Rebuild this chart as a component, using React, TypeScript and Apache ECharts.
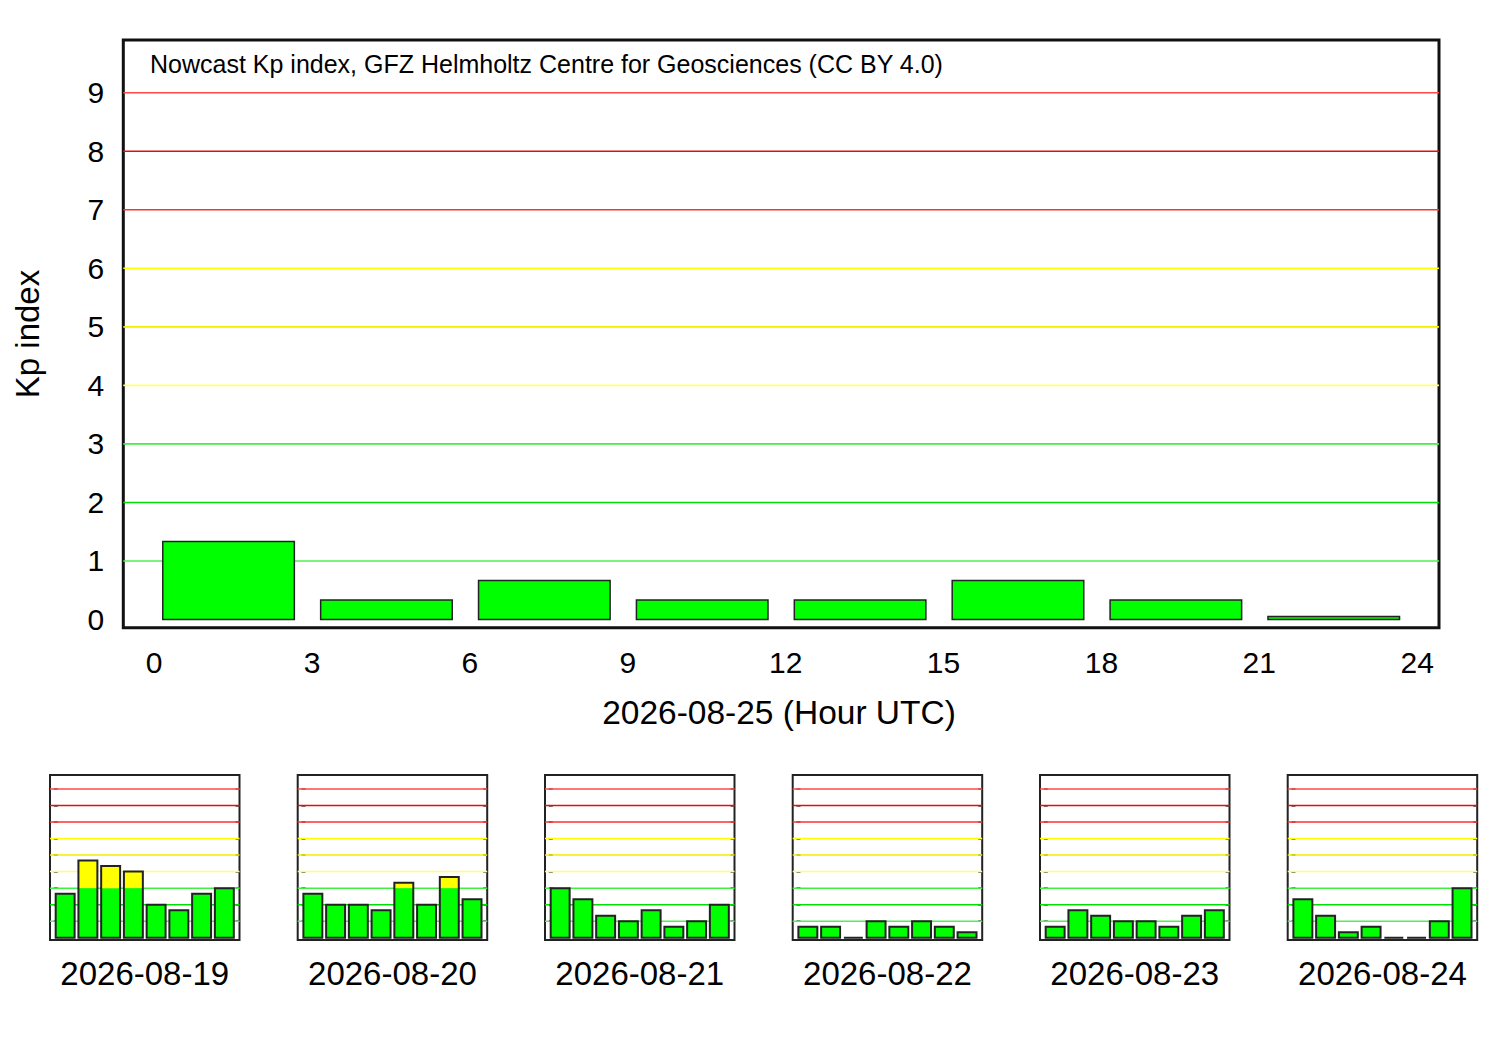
import React, { useEffect, useRef } from "react";
import * as echarts from "echarts";

// ---- data ----
const hours = [0, 3, 6, 9, 12, 15, 18, 21];
const mainDate = "2026-08-25";
const mainKp = [1.333, 0.333, 0.667, 0.333, 0.333, 0.667, 0.333, 0.05];
const dayLabels = ["2026-08-19", "2026-08-20", "2026-08-21", "2026-08-22", "2026-08-23", "2026-08-24"];
const kp0819 = [2.667, 4.667, 4.333, 4.0, 2.0, 1.667, 2.667, 3.0];
const kp0820 = [2.667, 2.0, 2.0, 1.667, 3.333, 2.0, 3.667, 2.333];
const kp0821 = [3.0, 2.333, 1.333, 1.0, 1.667, 0.667, 1.0, 2.0];
const kp0822 = [0.667, 0.667, 0.0, 1.0, 0.667, 1.0, 0.667, 0.333];
const kp0823 = [0.667, 1.667, 1.333, 1.0, 1.0, 0.667, 1.333, 1.667];
const kp0824 = [2.333, 1.333, 0.333, 0.667, 0.0, 0.0, 1.0, 3.0];
const dayKp = [kp0819, kp0820, kp0821, kp0822, kp0823, kp0824];
const yTicks = [0, 1, 2, 3, 4, 5, 6, 7, 8, 9];
const xTicks = [0, 3, 6, 9, 12, 15, 18, 21, 24];
const levels = [1, 2, 3, 4, 5, 6, 7, 8, 9];
const levelColors = ["#50f050", "#00e000", "#40f040", "#ffff70", "#f2ee00", "#ffff00", "#ff3030", "#e01010", "#ff4848"];
const titleText = "Nowcast Kp index, GFZ Helmholtz Centre for Geosciences (CC BY 4.0)";
const yName = "Kp index";
const xName = mainDate + " (Hour UTC)";

const FONT = "Liberation Sans, Arial, Helvetica, sans-serif";

function makeBarRender(lineWidth: number) {
  return (params: any, api: any) => {
    const h = api.value(0);
    const v = api.value(1);
    const xl = api.coord([h + 0.25, 0])[0];
    const xr = api.coord([h + 2.75, 0])[0];
    const y0 = api.coord([h, 0])[1];
    const yv = api.coord([h, v])[1];
    const y3 = api.coord([h, 3])[1];
    const w = xr - xl;
    const children: any[] = [];
    const gTop = v > 3 ? y3 : yv;
    children.push({ type: "rect", shape: { x: xl, y: gTop, width: w, height: y0 - gTop }, style: { fill: "#00ff00" } });
    if (v > 3) {
      children.push({ type: "rect", shape: { x: xl, y: yv, width: w, height: y3 - yv }, style: { fill: "#ffff00" } });
    }
    children.push({
      type: "rect",
      shape: { x: xl, y: yv, width: w, height: y0 - yv },
      style: { fill: "none", stroke: "#222", lineWidth },
    });
    return { type: "group", children };
  };
}

function makeLevelRender(lineWidth: number) {
  return (params: any, api: any) => {
    const lv = api.value(1);
    const cs = params.coordSys;
    const y = api.coord([0, lv])[1];
    return {
      type: "line",
      shape: { x1: cs.x, y1: y, x2: cs.x + cs.width, y2: y },
      style: { stroke: levelColors[params.dataIndex], lineWidth },
    };
  };
}

export default function App() {
  const ref = useRef<HTMLDivElement>(null);
  useEffect(() => {
    if (!ref.current) return;
    const chart = echarts.init(ref.current, undefined, { renderer: "svg" });

    const grids: any[] = [];
    const xAxes: any[] = [];
    const yAxes: any[] = [];
    const series: any[] = [];
    const graphics: any[] = [];

    // main grid
    grids.push({
      left: 123.3, top: 40, width: 1315.7, height: 587.7,
      show: true, borderWidth: 3, borderColor: "#111", backgroundColor: "transparent",
    });
    xAxes.push({
      type: "value", gridIndex: 0, min: -0.5, max: 24.5,
      axisLine: { show: false }, axisTick: { show: false }, splitLine: { show: false },
      axisLabel: {
        customValues: xTicks, fontSize: 30, fontFamily: FONT, color: "#000", margin: 20,
        padding: [0, 0, 0, 9],
      },
    });
    yAxes.push({
      type: "value", gridIndex: 0, min: -0.14, max: 9.9,
      axisLine: { show: false }, axisTick: { show: false }, splitLine: { show: false },
      axisLabel: { customValues: yTicks, fontSize: 30, fontFamily: FONT, color: "#000", margin: 19 },
    });
    series.push({
      type: "custom", xAxisIndex: 0, yAxisIndex: 0, silent: true, z: 1,
      renderItem: makeLevelRender(1.6),
      data: levels.map((l) => [0, l]),
    });
    series.push({
      type: "custom", xAxisIndex: 0, yAxisIndex: 0, z: 3,
      renderItem: makeBarRender(1.5),
      data: hours.map((h, i) => [h, mainKp[i]]),
    });

    // small grids
    const smallLefts = [50, 297.7, 545, 792.7, 1040, 1287.7];
    const smallW = 189.5;
    const smallTop = 775;
    const smallH = 165;
    smallLefts.forEach((left, k) => {
      const gi = k + 1;
      grids.push({
        left, top: smallTop, width: smallW, height: smallH,
        show: true, borderWidth: 2, borderColor: "#222", backgroundColor: "transparent",
      });
      xAxes.push({
        type: "value", gridIndex: gi, min: -0.5, max: 24.5,
        axisLine: { show: false }, axisTick: { show: false }, splitLine: { show: false },
        axisLabel: { show: false },
      });
      const yl = yAxes.length;
      yAxes.push({
        type: "value", gridIndex: gi, min: -0.14, max: 9.85, position: "left",
        axisLine: { show: false }, splitLine: { show: false }, axisLabel: { show: false },
        axisTick: { show: true, inside: true, length: 4, customValues: levels, lineStyle: { color: "#444", width: 1.5 } },
      });
      yAxes.push({
        type: "value", gridIndex: gi, min: -0.14, max: 9.85, position: "right",
        axisLine: { show: false }, splitLine: { show: false }, axisLabel: { show: false },
        axisTick: { show: true, inside: true, length: 4, customValues: levels, lineStyle: { color: "#444", width: 1.5 } },
      });
      series.push({
        type: "custom", xAxisIndex: gi, yAxisIndex: yl, silent: true, z: 1,
        renderItem: makeLevelRender(1.5),
        data: levels.map((l) => [0, l]),
      });
      series.push({
        type: "custom", xAxisIndex: gi, yAxisIndex: yl, z: 3,
        renderItem: makeBarRender(2),
        data: hours.map((h, i) => [h, dayKp[k][i]]),
      });
      graphics.push({
        type: "text", x: left + smallW / 2, y: 973,
        style: { text: dayLabels[k], font: `33px ${FONT}`, fill: "#000", textAlign: "center", textVerticalAlign: "middle" },
      });
    });

    graphics.push({
      type: "text", x: 150, y: 64,
      style: { text: titleText, font: `25px ${FONT}`, fill: "#000", textAlign: "left", textVerticalAlign: "middle" },
    });
    graphics.push({
      type: "text", x: 27, y: 334, rotation: Math.PI / 2,
      style: { text: yName, font: `33px ${FONT}`, fill: "#000", textAlign: "center", textVerticalAlign: "middle" },
    });
    graphics.push({
      type: "text", x: 779, y: 712,
      style: { text: xName, font: `33.5px ${FONT}`, fill: "#000", textAlign: "center", textVerticalAlign: "middle" },
    });

    chart.setOption({
      animation: false,
      backgroundColor: "#fff",
      grid: grids,
      xAxis: xAxes,
      yAxis: yAxes,
      series,
      graphic: graphics,
    });
    return () => chart.dispose();
  }, []);
  return (
    <div
      ref={ref}
      style={{ position: "absolute", left: 0, top: 0, width: 1500, height: 1050 }}
    />
  );
}
